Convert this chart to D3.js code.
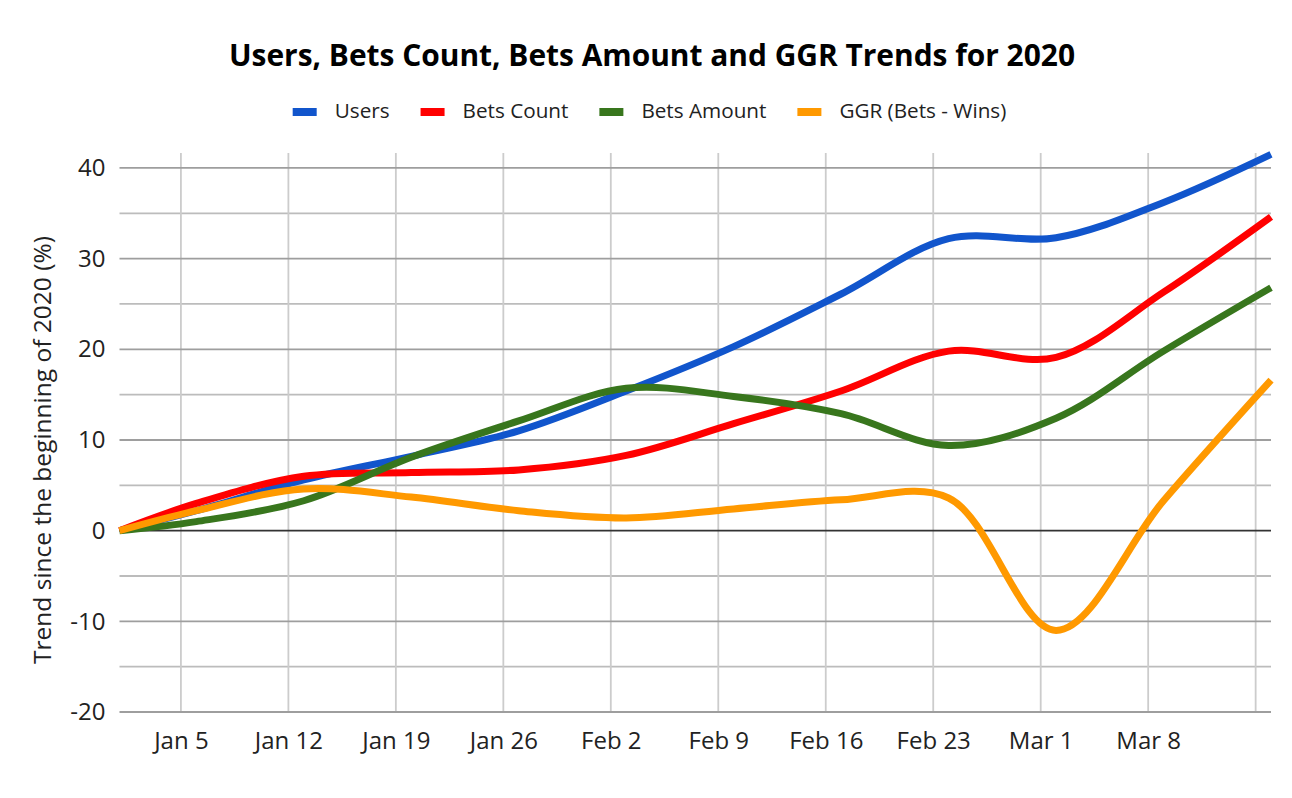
<!DOCTYPE html>
<html><head><meta charset="utf-8">
<script src="https://cdn.jsdelivr.net/npm/d3@7"></script>
<style>body{margin:0;background:#fff}svg{display:block}</style>
</head><body>
<svg id="chart" width="1292" height="798"></svg>
<script>
// ---- data ----
const dates = ["2020-01-01","2020-01-06","2020-01-13","2020-01-20","2020-01-27","2020-02-03","2020-02-10","2020-02-17","2020-02-24","2020-03-02","2020-03-09","2020-03-16"];
const users      = [0, 2.2, 5.6, 8.2, 11.0, 15.4, 20.3, 26.1, 32.2, 32.3, 36.2, 41.5];
const betsCount  = [0, 3.0, 6.0, 6.4, 6.7, 8.3, 11.8, 15.4, 19.8, 19.1, 26.3, 34.6];
const betsAmount = [0, 1.0, 3.3, 8.1, 12.1, 15.7, 14.8, 12.9, 9.4, 12.4, 19.8, 26.8];
const ggr        = [0, 2.2, 4.6, 3.7, 2.2, 1.4, 2.4, 3.4, 3.6, -11.0, 3.3, 16.6];
const seriesNames = ["Users", "Bets Count", "Bets Amount", "GGR (Bets - Wins)"];
const seriesColors = ["#1155cc", "#ff0000", "#38761d", "#ff9900"];
const seriesValues = [users, betsCount, betsAmount, ggr];
const yTicks = [-20, -10, 0, 10, 20, 30, 40];
const yMinorTicks = [-15, -5, 5, 15, 25, 35];
const xGridDates = ["2020-01-05","2020-01-12","2020-01-19","2020-01-26","2020-02-02","2020-02-09","2020-02-16","2020-02-23","2020-03-01","2020-03-08","2020-03-15"];
const xTickLabels = ["Jan 5","Jan 12","Jan 19","Jan 26","Feb 2","Feb 9","Feb 16","Feb 23","Mar 1","Mar 8"];
const titleText = "Users, Bets Count, Bets Amount and GGR Trends for 2020";
const yAxisTitle = "Trend since the beginning of 2020 (%)";

// ---- layout ----
const parse = d3.timeParse("%Y-%m-%d");
const svg = d3.select("#chart");
const FONT = "'Open Sans', 'Noto Sans', sans-serif";
const plotLeft = 119.5, plotRight = 1271, plotTop = 153, plotBottom = 712;

const x = d3.scaleTime().domain([parse("2020-01-01"), parse("2020-03-16")]).range([plotLeft, plotRight]);
const y = d3.scaleLinear().domain([-20, 41.65]).range([plotBottom, plotTop]);

// minor horizontal grid
svg.append("g").selectAll("line").data(yMinorTicks).join("line")
  .attr("x1", plotLeft).attr("x2", plotRight)
  .attr("y1", d => y(d)).attr("y2", d => y(d))
  .attr("stroke", "#bcbcbc").attr("stroke-width", 1.8);

// vertical grid
svg.append("g").selectAll("line").data(xGridDates).join("line")
  .attr("x1", d => x(parse(d))).attr("x2", d => x(parse(d)))
  .attr("y1", plotTop).attr("y2", plotBottom)
  .attr("stroke", "#cccccc").attr("stroke-width", 1.8);

// major horizontal grid
svg.append("g").selectAll("line").data(yTicks.filter(d => d !== 0)).join("line")
  .attr("x1", plotLeft).attr("x2", plotRight)
  .attr("y1", d => y(d)).attr("y2", d => y(d))
  .attr("stroke", "#9e9e9e").attr("stroke-width", 1.8);

// zero baseline
svg.append("line").attr("x1", plotLeft).attr("x2", plotRight)
  .attr("y1", y(0)).attr("y2", y(0)).attr("stroke", "#333").attr("stroke-width", 1.8);

// y axis labels
const yAxis = svg.append("g").attr("transform", `translate(${plotLeft},0)`)
  .call(d3.axisLeft(y).tickValues(yTicks).tickSize(0).tickPadding(14).tickFormat(d => String(d)));
yAxis.select(".domain").remove();
yAxis.selectAll("text").attr("font-family", FONT).attr("font-size", 24).attr("fill", "#222");

// x axis labels
const labelDates = xGridDates.slice(0, xTickLabels.length).map(parse);
const xAxis = svg.append("g").attr("transform", `translate(0,${plotBottom})`)
  .call(d3.axisBottom(x).tickValues(labelDates).tickSize(0).tickPadding(20)
    .tickFormat((d, i) => xTickLabels[i]));
xAxis.select(".domain").remove();
xAxis.selectAll("text").attr("font-family", FONT).attr("font-size", 24).attr("fill", "#222");

// lines
const line = d3.line().x(d => x(d.date)).y(d => y(d.v)).curve(d3.curveCatmullRom.alpha(0.5));
seriesValues.forEach((vals, i) => {
  const pts = vals.map((v, j) => ({date: parse(dates[j]), v}));
  svg.append("path").datum(pts).attr("d", line)
    .attr("fill", "none").attr("stroke", seriesColors[i]).attr("stroke-width", 7)
    .attr("stroke-linejoin", "round");
});

// title
const title = svg.append("text").attr("x", 652).attr("y", 66).attr("text-anchor", "middle")
  .attr("font-family", FONT).attr("font-weight", 700).attr("font-size", 31).attr("fill", "#000")
  .text(titleText);
const tw = title.node().getComputedTextLength();
if (tw > 846) title.attr("textLength", 846).attr("lengthAdjust", "spacingAndGlyphs");

// y axis title
svg.append("text").attr("transform", "translate(51,450) rotate(-90)").attr("text-anchor", "middle")
  .attr("font-family", FONT).attr("font-size", 24.5).attr("fill", "#222").text(yAxisTitle);

// legend
const legend = svg.append("g");
let cx = 0;
seriesNames.forEach((name, i) => {
  const g = legend.append("g").attr("transform", `translate(${cx},0)`);
  g.append("rect").attr("x", 0).attr("y", 108).attr("width", 24).attr("height", 8).attr("fill", seriesColors[i]);
  const t = g.append("text").attr("x", 42).attr("y", 118).attr("font-family", FONT)
    .attr("font-size", 20.7).attr("fill", "#222").text(name);
  const w = t.node().getComputedTextLength();
  cx += 42 + w + 31;
});
const totalW = cx - 31;
legend.attr("transform", `translate(${649.5 - totalW / 2},0)`);
</script>
</body></html>
